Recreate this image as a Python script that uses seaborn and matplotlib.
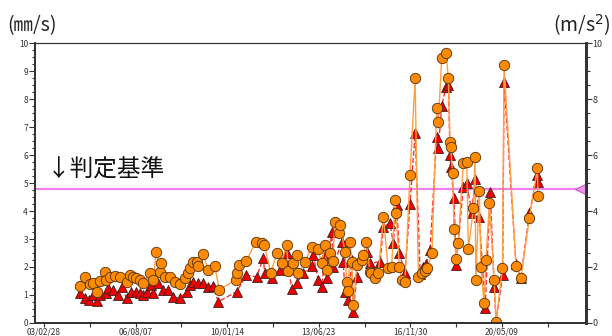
import numpy as np
import pandas as pd
import matplotlib
matplotlib.use('Agg')
import matplotlib.pyplot as plt
import matplotlib.dates as mdates
import matplotlib.transforms as mtransforms
from matplotlib.ticker import MultipleLocator, FixedLocator
import seaborn as sns

# velocity (orange circles): decimal year, value
vel_years = [
    2004.50, 2004.69, 2004.88, 2005.00, 2005.13, 2005.25, 2005.44, 2005.50, 2005.63, 2005.82,
    2006.00, 2006.26, 2006.38, 2006.50, 2006.63, 2006.76, 2006.88, 2007.13, 2007.26, 2007.38,
    2007.51, 2007.57, 2007.70, 2007.88, 2008.07, 2008.26, 2008.45, 2008.57, 2008.63, 2008.76,
    2008.89, 2008.95, 2009.13, 2009.32, 2009.57, 2009.74, 2010.36, 2010.41, 2010.49, 2010.76,
    2011.11, 2011.33, 2011.43, 2011.67, 2011.91, 2012.08, 2012.27, 2012.33, 2012.52, 2012.64,
    2012.70, 2012.96, 2013.21, 2013.45, 2013.58, 2013.71, 2013.77, 2013.89, 2014.00, 2014.08,
    2014.24, 2014.27, 2014.46, 2014.52, 2014.58, 2014.65, 2014.71, 2014.77, 2014.90, 2015.08,
    2015.15, 2015.25, 2015.40, 2015.45, 2015.58, 2015.71, 2015.90, 2016.08, 2016.21, 2016.34,
    2016.38, 2016.50, 2016.59, 2016.71, 2016.90, 2017.09, 2017.21, 2017.35, 2017.45, 2017.55,
    2017.72, 2017.90, 2017.96, 2018.09, 2018.25, 2018.34, 2018.40, 2018.42, 2018.50, 2018.55,
    2018.63, 2018.71, 2018.90, 2019.03, 2019.09, 2019.28, 2019.34, 2019.37, 2019.50, 2019.56,
    2019.68, 2019.75, 2019.88, 2020.06, 2020.13, 2020.37, 2020.43, 2020.88, 2021.06, 2021.38,
    2021.68, 2021.70,
]
vel_values = [
    1.32, 1.65, 1.39, 1.42, 1.12, 1.51, 1.83, 1.54, 1.65, 1.68,
    1.65, 1.48, 1.72, 1.65, 1.60, 1.54, 1.42, 1.77, 1.54, 2.55,
    1.83, 2.13, 1.63, 1.65, 1.48, 1.39, 1.60, 1.77, 1.95, 2.18,
    2.18, 2.02, 2.45, 1.90, 2.02, 1.19, 1.54, 1.77, 2.07, 2.23,
    2.90, 2.87, 2.79, 1.80, 2.49, 2.15, 2.79, 1.87, 2.13, 2.43,
    1.77, 2.19, 2.73, 2.63, 2.13, 2.79, 1.89, 2.49, 2.20, 3.62,
    3.20, 3.50, 2.55, 1.48, 1.15, 2.90, 2.19, 0.64, 2.07, 2.25,
    2.43, 2.90, 1.83, 1.77, 1.60, 1.77, 3.80, 1.95, 2.00, 4.39,
    3.92, 2.01, 1.54, 1.48, 5.29, 8.74, 1.65, 1.77, 1.85, 1.95,
    2.49, 7.67, 7.19, 9.45, 9.63, 8.74, 6.48, 6.30, 5.37, 3.35,
    2.27, 2.87, 5.70, 5.76, 2.63, 4.10, 5.92, 1.54, 4.73, 2.01,
    0.70, 2.25, 4.30, 1.54, 0.05, 1.95, 9.21, 2.04, 1.60, 3.74,
    5.52, 4.54,
]

# acceleration (red triangles): decimal year, value
acc_years = [
    2004.50, 2004.69, 2004.85, 2005.00, 2005.13, 2005.25, 2005.50, 2005.56, 2005.75, 2005.94,
    2006.07, 2006.26, 2006.44, 2006.63, 2006.76, 2006.88, 2007.01, 2007.19, 2007.26, 2007.44,
    2007.63, 2007.82, 2008.01, 2008.26, 2008.51, 2008.63, 2008.76, 2008.95, 2009.13, 2009.32,
    2009.51, 2009.70, 2010.39, 2010.76, 2011.14, 2011.39, 2011.45, 2011.70, 2012.02, 2012.27,
    2012.46, 2012.64, 2012.89, 2013.21, 2013.27, 2013.45, 2013.58, 2013.71, 2013.77, 2013.96,
    2014.02, 2014.33, 2014.39, 2014.46, 2014.58, 2014.71, 2014.77, 2014.90, 2015.27, 2015.40,
    2015.78, 2015.90, 2016.15, 2016.27, 2016.40, 2016.50, 2016.71, 2016.90, 2017.09, 2017.28,
    2017.40, 2017.50, 2017.65, 2017.90, 2017.96, 2018.09, 2018.25, 2018.34, 2018.40, 2018.42,
    2018.55, 2018.63, 2018.90, 2019.03, 2019.22, 2019.34, 2019.50, 2019.72, 2019.91, 2020.06,
    2020.13, 2020.38, 2020.43, 2020.88, 2021.06, 2021.38, 2021.68, 2021.70,
]
acc_values = [
    1.06, 0.88, 0.82, 1.00, 0.80, 1.00, 1.06, 1.24, 1.18, 1.00,
    1.30, 0.88, 1.12, 1.12, 1.06, 1.00, 1.12, 1.36, 1.08, 1.42,
    1.18, 1.18, 0.94, 0.88, 1.12, 1.36, 1.48, 1.42, 1.42, 1.30,
    1.32, 0.76, 1.12, 1.71, 1.65, 2.31, 1.77, 1.60, 1.89, 2.49,
    1.20, 1.42, 1.77, 2.04, 2.43, 1.54, 1.30, 2.43, 1.60, 3.26,
    2.00, 2.90, 2.18, 1.12, 0.82, 2.25, 0.40, 1.65, 2.55, 2.13,
    2.19, 3.44, 3.56, 2.85, 4.21, 2.49, 1.77, 4.25, 6.80, 1.75,
    2.00, 2.10, 2.60, 6.65, 6.24, 7.75, 8.44, 8.50, 6.00, 5.58,
    4.45, 2.07, 4.87, 4.99, 3.94, 5.13, 3.80, 0.52, 4.69, 1.30,
    0.05, 1.73, 8.62, 2.10, 1.60, 3.92, 5.30, 5.05,
]

threshold = 4.8
threshold_label = '↓判定基準'
x_start, x_end = '2002-10-28', '2023-06-28'
tick_start = '2003-02-28'


def to_dates(years):
    years = np.asarray(years, dtype=float)
    base = pd.to_datetime(np.floor(years).astype(int).astype(str) + '-01-01')
    return base + pd.to_timedelta((years % 1) * 365.25, unit='D')


vel = pd.DataFrame({'date': to_dates(vel_years), 'value': vel_values})
acc = pd.DataFrame({'date': to_dates(acc_years), 'value': acc_values})

sns.set_style('ticks')
plt.rcParams['font.family'] = ['Noto Sans CJK JP', 'DejaVu Sans']

fig = plt.figure(figsize=(6.12, 3.36), dpi=100)
ax = fig.add_axes([0.0572, 0.0387, 0.8995, 0.8333])

sns.lineplot(data=acc, x='date', y='value', ax=ax, sort=False, color='#ff3030',
             linewidth=1.0, linestyle='--', marker='^', markersize=7.5,
             markerfacecolor='#ee0000', markeredgecolor='#402020', markeredgewidth=0.6)
sns.lineplot(data=vel, x='date', y='value', ax=ax, sort=False, color='#ffa040',
             linewidth=1.0, marker='o', markersize=7.5,
             markerfacecolor='#ff8a00', markeredgecolor='#503010', markeredgewidth=0.6)

ax.axhline(threshold, color='#f080f0', linewidth=1.6, zorder=1)
# small pointer at the right edge of the threshold line
edge = mtransforms.blended_transform_factory(ax.transAxes, ax.transData)
edge = mtransforms.offset_copy(edge, fig=fig, x=-4, units='points')
ax.plot([1.0], [threshold], transform=edge, marker='<', markersize=7, clip_on=False,
        markerfacecolor='#f090f0', markeredgecolor='#b050b0', markeredgewidth=0.6,
        linestyle='none', zorder=6)
ax.text(0.022, 0.545, threshold_label, transform=ax.transAxes, fontsize=17,
        va='center', ha='left', color='#111111')

ax.set_xlim(pd.Timestamp(x_start), pd.Timestamp(x_end))
ax.set_ylim(0, 10)
ax.set_xlabel('')
ax.set_ylabel('')

major = pd.date_range(tick_start, periods=6, freq='1256D')
minor = pd.date_range(tick_start, periods=12, freq='628D')
ax.xaxis.set_major_locator(FixedLocator(mdates.date2num(major)))
ax.xaxis.set_minor_locator(FixedLocator(mdates.date2num(minor)))
ax.xaxis.set_major_formatter(mdates.DateFormatter('%y/%m/%d'))
ax.yaxis.set_major_locator(MultipleLocator(1))
ax.yaxis.set_minor_locator(MultipleLocator(0.25))

ax.tick_params(axis='x', which='major', labelsize=6, length=3, width=0.8,
               colors='#333333', pad=0)
ax.tick_params(axis='x', which='minor', length=3, width=0.8, colors='#333333')
ax.tick_params(axis='y', which='major', labelsize=6, length=4, width=0.8,
               colors='#333333', pad=1)
ax.tick_params(axis='y', which='minor', length=2.5, width=0.8, colors='#333333')

ax2 = ax.twinx()
ax2.set_ylim(0, 10)
ax2.yaxis.set_major_locator(MultipleLocator(2))
ax2.yaxis.set_minor_locator(MultipleLocator(0.5))
ax2.tick_params(axis='y', which='major', labelsize=6.5, length=4, width=0.8,
                colors='#333333', pad=1)
ax2.tick_params(axis='y', which='minor', length=3, width=0.8, colors='#333333')

for a in (ax, ax2):
    a.spines['left'].set_linewidth(1.3)
    a.spines['bottom'].set_linewidth(1.3)
    a.spines['right'].set_linewidth(2.0)
    a.spines['top'].set_linewidth(0.8)
    for s in a.spines.values():
        s.set_color('#333333')
        s.set_visible(True)

fig.text(0.012, 0.925, '(㎜/s)', fontsize=14, ha='left', va='center', color='#222222')
fig.text(0.997, 0.925, '(m/s$^2$)', fontsize=14, ha='right', va='center', color='#222222')

fig.savefig('out.png', dpi=100, facecolor='white')
